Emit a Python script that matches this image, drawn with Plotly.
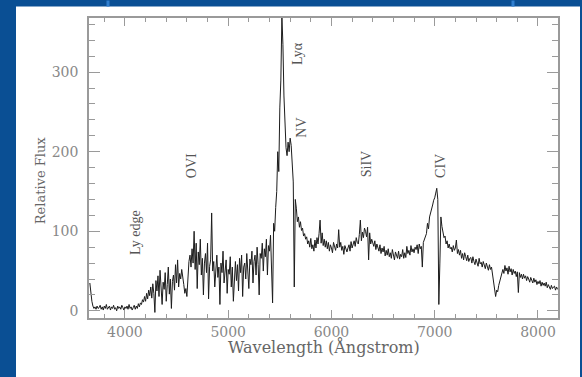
import plotly.graph_objects as go

start_wavelength = 3660
step = 10
flux = [
    35, 22, 12, 6, 3, 5, 2, 6, 3, 4,
    7, 2, 5, 1, 6, 3, 8, 2, 4, 6,
    1, 5, 3, 7, 2, 4, 0, 6, 3, 5,
    2, 7, 4, 1, 5, 3, 6, 2, 8, 3,
    5, 1, 4, 7, 2, 6, 3, 9, 5, 10,
    8, 14, 11, 18, 12, 22, 15, 26, 19, 30,
    16, 34, 22, -2, 38, 25, 44, 18, 51, 30,
    8, 36, 27, 48, 12, 33, 55, 21, 40, 3,
    37, 45, 26, 58, 35, 64, 30, 47, 40, 52,
    38, 33, 22, 28, 18, 45, 62, 70, 55, 78,
    60, 100, 52, 85, 28, 74, 58, 90, 45, 66,
    20, 60, 72, 48, 85, 15, 56, 64, 123, 50,
    62, 30, 58, 70, 42, 55, 8, 60, 48, 75,
    35, 57, 64, 22, 52, 46, 68, 30, 55, 12,
    50, 62, 38, 58, 25, 66, 48, 70, 18, 55,
    60, 40, 72, 52, 28, 65, 58, 75, 35, 62,
    70, 45, 80, 58, 20, 72, 66, 85, 50, 78,
    68, 90, 45, 82, 75, 95, 60, 10, 110, 100,
    130, 150, 200, 175, 255, 290, 370, 335, 270, 230,
    205, 195, 212, 200, 217, 208, 190, 162, 30, 140,
    129, 112, 118, 105, 112, 101, 104, 94, 97, 90,
    93, 84, 88, 80, 91, 78, 83, 75, 89, 79,
    92, 84, 97, 114, 85, 98, 82, 90, 80, 88,
    78, 86, 75, 83, 79, 73, 86, 80, 76, 84,
    79, 102, 80, 86, 76, 81, 71, 82, 77, 74,
    79, 83, 75, 87, 79, 84, 88, 81, 92, 86,
    84, 96, 114, 88, 99, 92, 104, 100, 93, 105,
    64, 98, 84, 90, 86, 81, 88, 77, 84, 80,
    75, 83, 72, 79, 74, 81, 69, 76, 70, 78,
    68, 73, 66, 77, 70, 64, 74, 69, 66, 75,
    65, 71, 68, 77, 66, 73, 67, 81, 72, 76,
    70, 82, 74, 78, 73, 80, 77, 83, 72, 84,
    78, 81, 55, 86, 90, 92, 97, 110, 103, 118,
    122, 127, 133, 139, 142, 148, 154, 140, 8, 60,
    118, 106, 100, 92, 94, 84, 88, 79, 84, 78,
    80, 74, 82, 76, 79, 89, 72, 77, 70, 76,
    66, 72, 64, 73, 68, 63, 70, 62, 66, 67,
    60, 68, 62, 58, 65, 60, 56, 66, 59, 61,
    55, 62, 57, 53, 60, 55, 51, 58, 52, 55,
    44, 35, 28, 18, 26, 24, 32, 38, 44, 48,
    52, 47, 57, 50, 54, 46, 56, 49, 53, 45,
    52, 47, 50, 43, 49, 23, 48, 42, 46, 40,
    46, 41, 44, 38, 43, 40, 36, 42, 38, 35,
    41, 36, 39, 33, 37, 34, 38, 31, 36, 32,
    35, 31, 36, 29, 33, 30, 27, 32, 28, 30,
    31, 26, 30, 27,
]
wavelength = [start_wavelength + step * i for i in range(len(flux))]

# Emission-line labels: text, wavelength, flux position
line_labels = ["Ly edge", "OVI", "Lyα", "NV", "SiIV", "CIV"]
label_wave = [4097, 4639, 5666, 5714, 6343, 7050]
label_flux = [99, 183, 324, 230, 184, 182]

x_ticks = [4000, 5000, 6000, 7000, 8000]
y_ticks = [0, 100, 200, 300]

W, H = 582, 377
L, R, T, B = 89, 558, 17.5, 318
BLUE = "#0a4f94"
AX = "#9a9a9a"

fig = go.Figure()
fig.add_trace(go.Scatter(x=wavelength, y=flux, mode="lines",
                         line=dict(color="#1c1c1c", width=1),
                         showlegend=False, hoverinfo="skip"))

for t, xw, yf in zip(line_labels, label_wave, label_flux):
    fig.add_annotation(x=xw, y=yf, xref="x", yref="y", text=t, showarrow=False,
                       xanchor="center", yanchor="middle",
                       textangle=-90, font=dict(family="Liberation Serif", size=14, color="#555"))

def px(x):
    return (x - L) / (R - L)

def py(y):
    return (B - y) / (B - T)

# white slide panel and decorations
fig.add_shape(type="rect", xref="paper", yref="paper", x0=px(16), x1=px(580), y0=py(377), y1=py(6),
              fillcolor="white", line=dict(width=0), layer="below")
for xs in (108, 513):
    fig.add_shape(type="rect", xref="paper", yref="paper", x0=px(xs - 1.5), x1=px(xs + 1.5), y0=py(6), y1=py(0),
                  fillcolor="#2f7fd0", line=dict(width=0), layer="below")

fig.add_annotation(x=px(324), y=py(347), xref="paper", yref="paper", text="Wavelength (Ångstrom)",
                   showarrow=False, xanchor="center", yanchor="middle",
                   font=dict(family="DejaVu Serif", size=16, color="#666"))
fig.add_annotation(x=px(40), y=py(181), xref="paper", yref="paper", text="Relative Flux",
                   showarrow=False, xanchor="center", yanchor="middle", textangle=-90,
                   font=dict(family="DejaVu Serif", size=13, color="#666"))

fig.update_layout(
    width=W, height=H,
    margin=dict(l=L, r=W - R, t=T, b=H - B),
    paper_bgcolor=BLUE, plot_bgcolor="white",
    xaxis=dict(range=[3652, 8194], tickvals=x_ticks, ticks="inside", ticklen=8, tickcolor=AX, tickwidth=1.2,
               showline=True, linecolor=AX, linewidth=1.5, mirror="ticks", showgrid=False, zeroline=False,
               tickfont=dict(family="DejaVu Serif", size=14, color="#888"),
               minor=dict(dtick=200, tick0=0, ticks="inside", ticklen=4, tickcolor=AX, tickwidth=1, showgrid=False)),
    yaxis=dict(range=[-9, 368], tickvals=y_ticks, ticks="inside", ticklen=11, tickcolor=AX, tickwidth=1.2,
               showline=True, linecolor=AX, linewidth=1.5, mirror="ticks", showgrid=False, zeroline=False,
               ticklabelstandoff=6,
               tickfont=dict(family="DejaVu Serif", size=14, color="#888"),
               minor=dict(dtick=20, tick0=0, ticks="inside", ticklen=6, tickcolor=AX, tickwidth=1, showgrid=False)),
)

fig.write_html("out.html", config={"displayModeBar": False},
               post_script="document.body.style.margin='0';document.body.style.padding='0';")
